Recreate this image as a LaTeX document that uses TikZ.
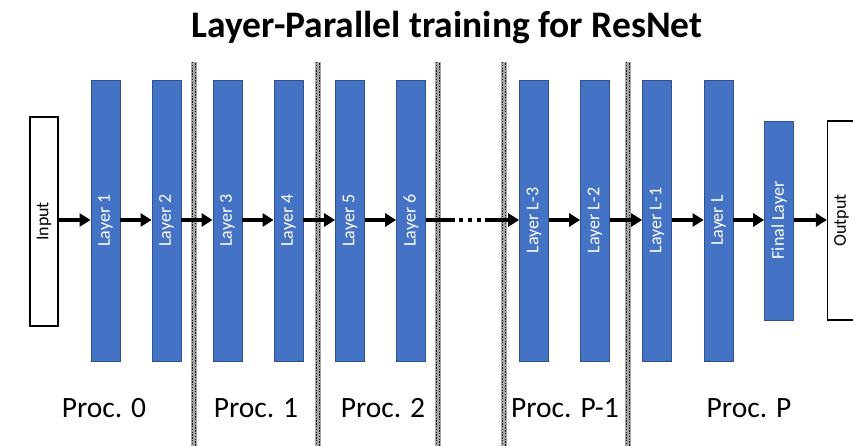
\documentclass[tikz,border=0pt]{standalone}
\usepackage{fontspec}
\usepackage{graphicx}
\setmainfont{Carlito}
\usetikzlibrary{arrows.meta}

\definecolor{layerblue}{HTML}{4472C4}
\definecolor{layeredge}{HTML}{2F528F}

\tikzset{
  layerbox/.style={draw=layeredge, line width=0.8pt, fill=layerblue,
    minimum width=29pt, minimum height=281pt, inner sep=0pt,
    text=white, font=\fontsize{18}{20}\selectfont},
  shortbox/.style={layerbox, minimum height=199pt},
  iobox/.style={draw=black, line width=1.3pt, fill=white,
    minimum width=28pt, inner sep=0pt, font=\fontsize{18}{20}\selectfont},
  flow/.style={line width=4.2pt, -{Triangle[length=11pt,width=13pt]}},
  dividerbase/.style={fill=black!35},
  dividerdots/.style={draw=black!90, line width=1.4pt, dash pattern=on 1.4pt off 1.4pt},
  proclabel/.style={anchor=base, inner sep=0pt, font=\fontsize{29.5}{32}\selectfont},
}

\begin{document}
\begin{tikzpicture}[x=1pt, y=-1pt]
\useasboundingbox (0,0) rectangle (853,446);
\fill[white] (0,0) rectangle (853,446);

% title
\node[anchor=base, inner sep=0pt, font=\fontsize{37.5}{40}\selectfont\bfseries]
  (title) at (447,38) {Layer-Parallel training for ResNet};

% processor boundaries: stippled vertical bands
\foreach \xd in {194,318,438,504,628} {
  \fill[dividerbase] (\xd-2.8,62) rectangle (\xd+2.8,446);
  \draw[dividerdots] (\xd-1.5,62) -- (\xd-1.5,446);
  \draw[dividerdots, dash phase=1.4pt] (\xd+1.5,62) -- (\xd+1.5,446);
}

% input / output
\node[iobox, minimum height=209pt] (in) at (44,221.5) {\rotatebox{90}{Input}};
\node[iobox, minimum height=199pt] (out) at (841.5,220.5) {\rotatebox{90}{Output}};

% layers
\node[layerbox] (l1)  at (105.5,220.5) {\rotatebox{90}{Layer 1}};
\node[layerbox] (l2)  at (166.5,220.5) {\rotatebox{90}{Layer 2}};
\node[layerbox] (l3)  at (227.5,220.5) {\rotatebox{90}{Layer 3}};
\node[layerbox] (l4)  at (288.5,220.5) {\rotatebox{90}{Layer 4}};
\node[layerbox] (l5)  at (350,220.5)   {\rotatebox{90}{Layer 5}};
\node[layerbox] (l6)  at (411,220.5)   {\rotatebox{90}{Layer 6}};
\node[layerbox] (lm3) at (534,220.5)   {\rotatebox{90}{Layer L-3}};
\node[layerbox] (lm2) at (595,220.5)   {\rotatebox{90}{Layer L-2}};
\node[layerbox] (lm1) at (657,220.5)   {\rotatebox{90}{Layer L-1}};
\node[layerbox] (ll)  at (718.5,220.5) {\rotatebox{90}{Layer L}};
\node[shortbox] (fin) at (779,220.5)   {\rotatebox{90}{Final Layer}};

% forward connections
\draw[flow] (in.east |- 0,220) -- (l1.west |- 0,220);
\draw[flow] (l1.east |- 0,220) -- (l2.west |- 0,220);
\draw[flow] (l2.east |- 0,220) -- (l3.west |- 0,220);
\draw[flow] (l3.east |- 0,220) -- (l4.west |- 0,220);
\draw[flow] (l4.east |- 0,220) -- (l5.west |- 0,220);
\draw[flow] (l5.east |- 0,220) -- (l6.west |- 0,220);
\draw[flow, dash pattern=on 29pt off 4pt on 4pt off 5pt on 4pt off 5pt on 4pt off 4pt on 60pt]
  (l6.east |- 0,220) -- (lm3.west |- 0,220);
\draw[flow] (lm3.east |- 0,220) -- (lm2.west |- 0,220);
\draw[flow] (lm2.east |- 0,220) -- (lm1.west |- 0,220);
\draw[flow] (lm1.east |- 0,220) -- (ll.west |- 0,220);
\draw[flow] (ll.east |- 0,220) -- (fin.west |- 0,220);
\draw[flow] (fin.east |- 0,220) -- (out.west |- 0,220);

% processor labels
\node[proclabel] (p0)  at (104,417) {Proc. 0};
\node[proclabel] (p1)  at (256,417) {Proc. 1};
\node[proclabel] (p2)  at (383,417) {Proc. 2};
\node[proclabel] (pp1) at (565,417) {Proc. P-1};
\node[proclabel] (pp)  at (749,417) {Proc. P};
\end{tikzpicture}
\end{document}
